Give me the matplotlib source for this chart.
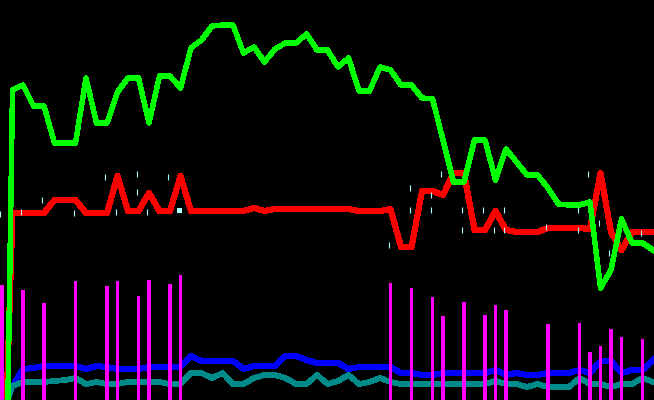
import matplotlib
matplotlib.use("Agg")
import matplotlib.pyplot as plt
import numpy as np

# x positions (sample index)
idx = list(range(63))

green = [-400, 310, 315, 294, 294, 257, 257, 257, 322, 277, 277, 308, 322, 322, 277,
         324, 324, 312, 352, 360, 374, 375, 375, 347, 353, 338, 351, 357, 357, 366,
         350, 350, 333, 342, 309, 309, 333, 330, 315, 315, 302, 301, 260, 218, 218,
         260, 260, 220, 251, 238, 225, 225, 212, 196, 195, 195, 198, 112, 130, 181,
         157, 157, 150]

red = [-153, 187, 187, 187, 187, 200, 200, 200, 187, 187, 187, 224, 189, 189, 207,
       189, 189, 224, 189, 189, 189, 189, 189, 189, 192, 189, 191, 191, 191, 191,
       191, 191, 191, 191, 189, 189, 189, 191, 153, 153, 209, 209, 205, 227, 227,
       170, 170, 189, 170, 168, 168, 168, 172, 172, 172, 172, 171, 227, 168, 150,
       168, 168, 168]

blue = [-15, 14, 31, 32, 34, 34, 34, 34, 31, 34, 33, 31, 31, 31, 33,
        33, 33, 33, 44, 39, 39, 39, 39, 31, 34, 34, 34, 44, 44, 40,
        37, 37, 37, 31, 33, 33, 33, 33, 27, 27, 25, 25, 27, 27, 27,
        27, 27, 30, 25, 27, 25, 25, 27, 27, 27, 30, 27, 39, 39, 27,
        30, 30, 40]

teal = [-15, 14, 18, 18, 18, 19, 20, 22, 16, 18, 16, 16, 18, 18, 18,
        18, 16, 16, 27, 27, 22, 27, 16, 16, 22, 25, 25, 22, 16, 16,
        25, 16, 19, 25, 16, 18, 22, 18, 16, 16, 16, 16, 16, 16, 16,
        16, 16, 19, 16, 16, 13, 16, 13, 13, 13, 22, 16, 16, 13, 16,
        16, 22, 18]

bar_idx = [0, 2, 4, 7, 10, 11, 13, 14, 16, 17, 37, 39, 41, 42, 44, 46, 47, 48,
           52, 55, 56, 57, 58, 59, 61]
bar_val = [115, 110, 97, 119, 114, 119, 104, 120, 116, 125, 117, 112, 103, 84, 98,
           85, 95, 90, 76, 77, 48, 54, 71, 63, 61]

tick_idx = [0, 2, 4, 7, 10, 11, 13, 13, 14, 16, 37, 39, 39, 41, 41, 42, 44, 44,
            46, 47, 48, 48, 52, 55, 55, 56, 57, 58, 61]
tick_val = [186, 188, 200, 187, 223, 188, 226, 208, 188, 223, 155, 212, 190, 205,
            190, 226, 190, 170, 190, 170, 190, 170, 173, 190, 170, 226, 177, 147, 167]

square_idx = [17]
square_val = [190]

fig = plt.figure(figsize=(6.54, 4.00), dpi=100, facecolor="black")
ax = fig.add_axes([0, 0, 1, 1])
ax.set_facecolor("black")

ax.plot(idx, red, color="#ff0000", lw=3.7, zorder=2, antialiased=False)
ax.plot(idx, green, color="#00ff00", lw=3.2, zorder=3, antialiased=False)
ax.plot(idx, blue, color="#0000ff", lw=3.6, zorder=2, antialiased=False)
ax.plot(idx, teal, color="#008b8b", lw=3.4, zorder=2, antialiased=False)

ax.bar(bar_idx, bar_val, width=0.38, color="#ff00ff", zorder=4, antialiased=False)

off = 0.19
ax.plot(np.array(tick_idx) - off, tick_val, linestyle="none", marker="|",
        markersize=4.3, markeredgewidth=0.8, color="#a8ffff", zorder=5)
ax.plot(np.array(square_idx) - off, square_val, linestyle="none", marker="s",
        markersize=3.6, markeredgewidth=0, color="#a8ffff", zorder=5)

ax.set_xlim(-2 / 10.5, 652 / 10.5)
ax.set_ylim(0, 400)
ax.axis("off")

fig.savefig("out.png", dpi=100, facecolor="black")
